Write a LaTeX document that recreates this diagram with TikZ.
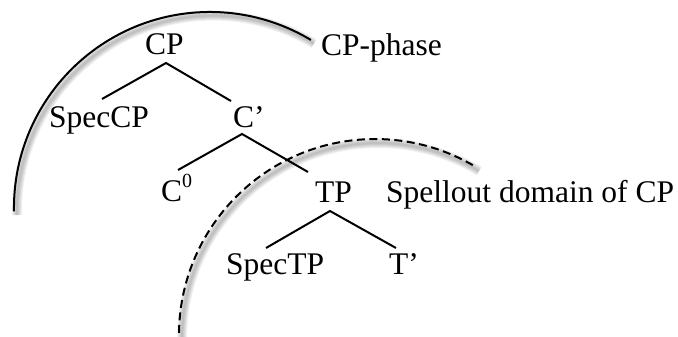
\documentclass[tikz,border=0pt]{standalone}
\usepackage{fontspec}
\setmainfont{Liberation Serif}
\begin{document}
\begin{tikzpicture}[x=1pt,y=-1pt,
  lbl/.style={anchor=base west,inner sep=0pt,font=\fontsize{31.5}{31.5}\selectfont},
  branch/.style={line width=2pt},
  phasearc/.style={line width=2pt},
  shade/.style={line width=#1,draw=black,opacity=0.055}]
\useasboundingbox (0,0) rectangle (678,337);
\clip (0,0) rectangle (678,337);
% shadows of arcs
\foreach \w in {2,4,6,8,10}{
  \draw[shade=\w pt] (17,215) arc[start angle=-181,end angle=-59,radius=196];
  \draw[shade=\w pt] (182.3,349.3) arc[start angle=-183,end angle=-59,radius=196];
}
% arcs
\draw[phasearc] (14,211.4) arc[start angle=-181,end angle=-59,radius=196];
\draw[phasearc,dash pattern=on 8pt off 4.5pt] (179.3,345.3) arc[start angle=-183,end angle=-59,radius=196];
% labels
\node[lbl] (cp) at (145,55) {CP};
\node[lbl] (speccp) at (49,128) {SpecCP};
\node[lbl] (cbar) at (233,128) {C’};
\node[lbl] (c0) at (161,201) {C\raisebox{14pt}{\fontsize{20}{20}\selectfont 0}};
\node[lbl] (tp) at (315,202) {TP};
\node[lbl] (spectp) at (226,274) {SpecTP};
\node[lbl] (tbar) at (389,274) {T’};
\node[lbl] (cpphase) at (321,56) {CP-phase};
\node[lbl] (spellout) at (386,202) {Spellout domain of CP};
% branch end points
\coordinate (cp-b) at (166,63);
\coordinate (speccp-t) at (102,99);
\coordinate (cbar-t) at (231,101);
\coordinate (cbar-b) at (242,134);
\coordinate (c0-t) at (178,170);
\coordinate (tp-t) at (308,172);
\coordinate (tp-b) at (330,211);
\coordinate (spectp-t) at (266,248);
\coordinate (tbar-t) at (396,248);
\draw[branch] (speccp-t) -- (cp-b) -- (cbar-t);
\draw[branch] (c0-t) -- (cbar-b) -- (tp-t);
\draw[branch] (spectp-t) -- (tp-b) -- (tbar-t);
\end{tikzpicture}
\end{document}
